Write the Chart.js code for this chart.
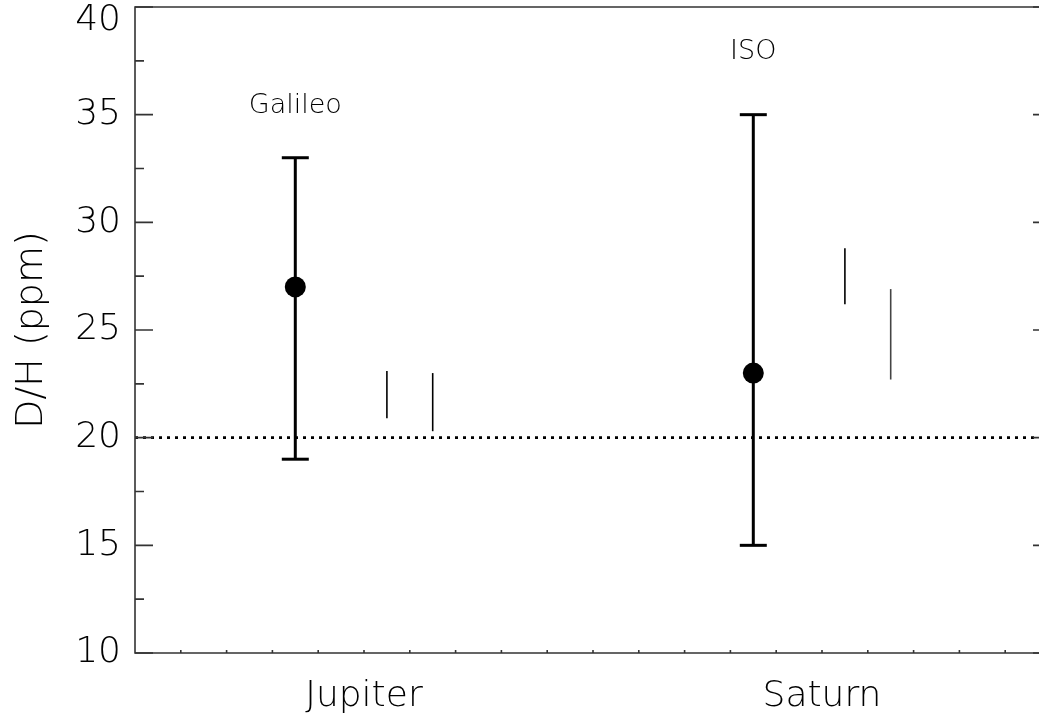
<!DOCTYPE html>
<html>
<head>
<meta charset="utf-8">
<title>D/H ratio</title>
<script src="https://cdn.jsdelivr.net/npm/chart.js@4.4.0/dist/chart.umd.min.js"></script>
<style>
  html, body { margin: 0; padding: 0; background: #fff; overflow: hidden; }
  #wrap { width: 1060px; height: 717px; }
</style>
</head>
<body>
<div id="wrap"><canvas id="dhChart" width="1060" height="717"></canvas></div>
<script>
// ── Data ──
const planets     = ['Jupiter', 'Saturn'];
const planetPos   = [5, 15];

const instruments = ['Galileo', 'ISO'];
const measX       = [3.5, 13.5];
const measY       = [27, 23];
const measLow     = [19, 15];
const measHigh    = [33, 35];

// thin model ranges next to each planet
const rangeX      = [5.5, 6.5, 15.5, 16.5];
const rangeLow    = [20.9, 20.3, 26.2, 22.7];
const rangeHigh   = [23.1, 23.0, 28.8, 26.9];

const refLevel    = 20;
const yTicks      = [10, 15, 20, 25, 30, 35, 40];

// ── Style ──
const FAMILY = '"DejaVu Sans", "Liberation Sans", sans-serif';
const INK = '#000';

// label heights (in data units) for the instrument names
const instrumentLabelY = [35.4, 37.9];

// ── Plugin: IDL-style frame with inward ticks, y tick labels, instrument names ──
const framePlugin = {
  id: 'frame',
  afterDraw(chart) {
    const { ctx, chartArea: a, scales: { x, y } } = chart;
    ctx.save();

    // frame
    ctx.strokeStyle = '#333';
    ctx.lineWidth = 1.6;
    ctx.beginPath();
    ctx.moveTo(a.left, a.bottom);
    ctx.lineTo(a.left, a.top);
    ctx.lineTo(a.right, a.top);
    ctx.lineTo(a.right, a.bottom);
    ctx.closePath();
    ctx.stroke();

    // y ticks: major every 5, minor in between, both sides
    ctx.beginPath();
    for (let i = 0; i < yTicks.length; i++) {
      const py = y.getPixelForValue(yTicks[i]);
      ctx.moveTo(a.left, py);  ctx.lineTo(a.left + 18, py);
      ctx.moveTo(a.right, py); ctx.lineTo(a.right - 18, py);
      if (i < yTicks.length - 1) {
        const pm = y.getPixelForValue((yTicks[i] + yTicks[i + 1]) / 2);
        ctx.moveTo(a.left, pm);  ctx.lineTo(a.left + 9, pm);
        ctx.moveTo(a.right, pm); ctx.lineTo(a.right - 9, pm);
      }
    }
    // x ticks: small marks at every unit
    for (let v = x.min + 1; v < x.max; v++) {
      const px = x.getPixelForValue(v);
      ctx.moveTo(px, a.bottom); ctx.lineTo(px, a.bottom - 3);
    }
    ctx.stroke();

    // y tick labels (top one kept inside the canvas)
    ctx.fillStyle = INK;
    ctx.font = `200 36px ${FAMILY}`;
    ctx.textAlign = 'right';
    ctx.textBaseline = 'middle';
    yTicks.forEach(v => {
      const py = Math.max(y.getPixelForValue(v), a.top + 14);
      ctx.fillText(String(v), a.left - 14, py);
    });

    // instrument names above the error bars
    ctx.font = `200 27px ${FAMILY}`;
    ctx.textAlign = 'center';
    instruments.forEach((name, i) => {
      ctx.fillText(name, x.getPixelForValue(measX[i]), y.getPixelForValue(instrumentLabelY[i]));
    });

    ctx.restore();
  }
};

// ── Datasets (index 0 is drawn on top) ──
const points = {
  type: 'scatter',
  data: measX.map((x, i) => ({ x, y: measY[i] })),
  pointRadius: 10.5,
  pointHoverRadius: 10.5,
  backgroundColor: INK,
  borderColor: INK,
  borderWidth: 0
};

const errorBars = measX.map((x, i) => ({
  type: 'line',
  data: [{ x, y: measLow[i] }, { x, y: measHigh[i] }],
  borderColor: INK,
  borderWidth: 3,
  pointStyle: 'line',          // horizontal caps
  pointRadius: 13.5,
  pointHoverRadius: 13.5,
  pointBorderWidth: 3,
  pointBorderColor: INK
}));

const ranges = rangeX.map((x, i) => ({
  type: 'line',
  data: [{ x, y: rangeLow[i] }, { x, y: rangeHigh[i] }],
  borderColor: i === 3 ? '#444' : INK,
  borderWidth: 1.6,
  pointRadius: 0
}));

const refLine = {
  type: 'line',
  data: [{ x: 0, y: refLevel }, { x: 20, y: refLevel }],
  borderColor: INK,
  borderWidth: 2.6,
  borderDash: [3, 5],
  pointRadius: 0
};

new Chart(document.getElementById('dhChart'), {
  type: 'scatter',
  data: { datasets: [points, ...errorBars, ...ranges, refLine] },
  options: {
    responsive: false,
    animation: false,
    events: [],
    layout: { autoPadding: false, padding: { top: 7, right: 9, left: 0, bottom: 0 } },
    plugins: {
      legend: { display: false },
      tooltip: { enabled: false }
    },
    scales: {
      x: {
        type: 'linear',
        min: 0,
        max: 20,
        afterFit(scale) { scale.height = 64; },
        afterBuildTicks(scale) { scale.ticks = planetPos.map(v => ({ value: v })); },
        grid: { display: false, drawTicks: false },
        border: { display: false },
        ticks: {
          autoSkip: false,
          maxRotation: 0,
          padding: 22,
          color: INK,
          font: { family: FAMILY, size: 36, weight: 200 },
          callback: v => planets[planetPos.indexOf(v)] ?? ''
        }
      },
      y: {
        type: 'linear',
        min: 10,
        max: 40,
        afterFit(scale) { scale.width = 135; },
        grid: { display: false, drawTicks: false },
        border: { display: false },
        ticks: { display: false, stepSize: 5 },
        title: {
          display: true,
          text: 'D/H (ppm)',
          color: INK,
          font: { family: FAMILY, size: 38, weight: 200 },
          padding: { top: 9, bottom: 0 }
        }
      }
    }
  },
  plugins: [framePlugin]
});
</script>
</body>
</html>
